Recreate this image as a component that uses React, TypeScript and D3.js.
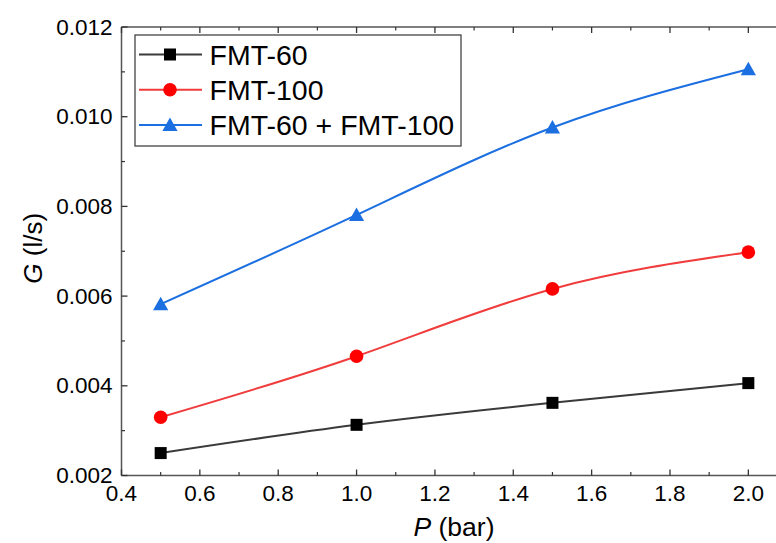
import React from "react";
import * as d3 from "d3";

const pressures = [0.5, 1.0, 1.5, 2.0];
const fmt60 = [0.0025, 0.00313, 0.00362, 0.00406];
const fmt100 = [0.0033, 0.00466, 0.00616, 0.00698];
const fmtBoth = [0.00582, 0.00781, 0.00976, 0.01106];
const seriesNames = ["FMT-60", "FMT-100", "FMT-60 + FMT-100"];
const xTicks = [0.4, 0.6, 0.8, 1.0, 1.2, 1.4, 1.6, 1.8, 2.0];
const yTicks = [0.002, 0.004, 0.006, 0.008, 0.01, 0.012];

const W = 776, H = 543;
const L = 121.5, R = 776, T = 27, B = 475.5;

export default function App() {
  const x = d3.scaleLinear().domain([0.4, 2.0706]).range([L, R]);
  const y = d3.scaleLinear().domain([0.002, 0.012]).range([B, T]);
  const series = [
    { name: seriesNames[0], vals: fmt60, color: "#000000", line: "#3a3a3a", shape: "square" },
    { name: seriesNames[1], vals: fmt100, color: "#ff0000", line: "#f03c3c", shape: "circle" },
    { name: seriesNames[2], vals: fmtBoth, color: "#1c6fe0", line: "#1c6fe0", shape: "triangle" },
  ];
  const line = d3.line<[number, number]>().x(d => x(d[0])).y(d => y(d[1])).curve(d3.curveNatural);
  const marker = (shape: string, cx: number, cy: number, color: string, key?: any) => {
    if (shape === "square") return <rect key={key} x={cx - 6} y={cy - 6} width={12} height={12} fill={color} />;
    if (shape === "circle") return <circle key={key} cx={cx} cy={cy} r={6.8} fill={color} />;
    return <path key={key} d={`M${cx},${cy - 7.5} L${cx + 7.6},${cy + 6} L${cx - 7.6},${cy + 6} Z`} fill={color} />;
  };
  const xMinor = d3.range(0.5, 2.05, 0.2).map(v => +v.toFixed(2));
  const yMinor = d3.range(0.003, 0.0115, 0.002).map(v => +v.toFixed(4));
  const axisColor = "#555";
  const font = "Liberation Sans, Arial, sans-serif";
  return (
    <svg width={W} height={H} style={{ position: "absolute", left: 0, top: 0 }} fontFamily={font}>
      <rect width={W} height={H} fill="#fff" />
      <line x1={L} y1={T} x2={R} y2={T} stroke={axisColor} strokeWidth={1.5} />
      <line x1={L} y1={T} x2={L} y2={B} stroke={axisColor} strokeWidth={1.5} />
      <line x1={L} y1={B} x2={R} y2={B} stroke={axisColor} strokeWidth={1.5} />
      {xTicks.map(t => (
        <g key={"xt" + t}>
          <line x1={x(t)} x2={x(t)} y1={B} y2={B - 6} stroke="#333" strokeWidth={1.3} />
          <line x1={x(t)} x2={x(t)} y1={T} y2={T + 6} stroke="#333" strokeWidth={1.3} />
          <text x={x(t)} y={B + 25} fontSize={22.5} textAnchor="middle" fill="#000">{t.toFixed(1)}</text>
        </g>
      ))}
      {xMinor.map(t => (
        <g key={"xm" + t}>
          <line x1={x(t)} x2={x(t)} y1={B} y2={B - 3.5} stroke="#333" strokeWidth={1.2} />
          <line x1={x(t)} x2={x(t)} y1={T} y2={T + 3.5} stroke="#333" strokeWidth={1.2} />
        </g>
      ))}
      {yTicks.map(t => (
        <g key={"yt" + t}>
          <line x1={L} x2={L + 6} y1={y(t)} y2={y(t)} stroke="#333" strokeWidth={1.3} />
          <text x={112.5} y={y(t) + 7.5} fontSize={22.5} textAnchor="end" fill="#000">{t.toFixed(3)}</text>
        </g>
      ))}
      {yMinor.map(t => (
        <line key={"ym" + t} x1={L} x2={L + 3.5} y1={y(t)} y2={y(t)} stroke="#333" strokeWidth={1.2} />
      ))}
      {series.map(s => (
        <g key={s.name}>
          <path d={line(pressures.map((p, i) => [p, s.vals[i]]) as any) || ""} fill="none" stroke={s.line} strokeWidth={2} />
          {pressures.map((p, i) => marker(s.shape, x(p), y(s.vals[i]), s.color, i))}
        </g>
      ))}
      <rect x={135} y={35} width={326} height={111} fill="#fff" stroke="#444" strokeWidth={1.3} />
      {series.map((s, i) => {
        const ly = 54.5 + i * 35.3;
        return (
          <g key={"lg" + i}>
            <line x1={139} x2={202} y1={ly} y2={ly} stroke={s.line} strokeWidth={2} />
            {marker(s.shape, 170, ly, s.color)}
            <text x={209.5} y={ly + 10} fontSize={28.5} fill="#000">{s.name}</text>
          </g>
        );
      })}
      <text x={454} y={536} fontSize={26.5} textAnchor="middle" fill="#000">
        <tspan fontStyle="italic">P</tspan> (bar)
      </text>
      <text transform={`translate(42, ${(T + B) / 2 - 3}) rotate(-90)`} fontSize={26} textAnchor="middle" fill="#000">
        <tspan fontStyle="italic">G</tspan> (l/s)
      </text>
    </svg>
  );
}
